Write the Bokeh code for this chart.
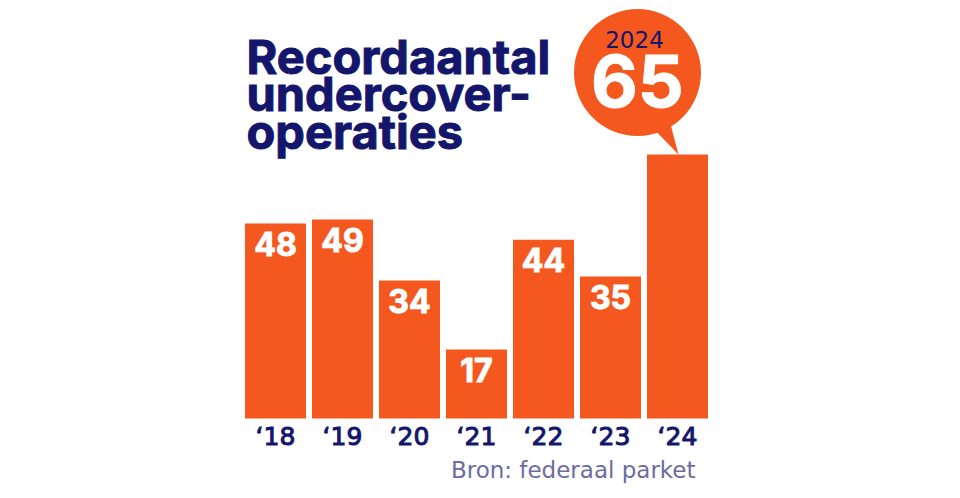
from bokeh.plotting import figure
from bokeh.models import Range1d, Label, ColumnDataSource
from bokeh.core.properties import value
from bokeh.embed import file_html
from bokeh.resources import INLINE

# ---- data ----
years = ["\u201818", "\u201819", "\u201820", "\u201821", "\u201822", "\u201823", "\u201824"]
counts = [48, 49, 34, 17, 44, 35, 65]
highlight_year = "2024"
title_lines = ["Recordaantal", "undercover-", "operaties"]
source_text = "Bron: federaal parket"

# ---- style / layout ----
ORANGE = "#f4581f"
NAVY = "#13166b"
GREY = "#6d6ba0"
FONT = "Inter"
FONT2 = "DejaVu Sans"
W, H = 960, 498
PX_X = 67.0      # pixels per category step
PX_Y = 4.06      # pixels per unit
FIRST_CX = 275.0  # x of first bar centre
BASE_Y = 418.0    # y (from top) of baseline
BL = 0.37         # baseline correction (fraction of font size)

x0 = -FIRST_CX / PX_X
y0 = -(H - BASE_Y) / PX_Y

p = figure(width=W, height=H, output_backend="svg", toolbar_location=None,
           x_range=Range1d(x0, x0 + W / PX_X), y_range=Range1d(y0, y0 + H / PX_Y),
           min_border=0, x_axis_location=None, y_axis_location=None)
p.outline_line_color = None
p.xgrid.visible = False
p.ygrid.visible = False
p.background_fill_color = "white"
p.border_fill_color = "white"

def px2x(px):
    return x0 + px / PX_X

def py2y(py):
    return y0 + (H - py) / PX_Y

idx = list(range(len(years)))
src = ColumnDataSource(dict(x=idx, v=counts, yr=years, zero=[0] * len(years)))

p.vbar(x="x", top="v", bottom=0, width=61 / PX_X, source=src,
       fill_color=ORANGE, line_color=None)

# value labels (all except highlighted last)
vsrc = ColumnDataSource(dict(x=idx[:-1], v=counts[:-1], lab=[str(c) for c in counts[:-1]]))
p.text(x="x", y="v", text="lab", source=vsrc, text_color="white",
       text_outline_color="white",
       text_font=value(FONT), text_font_style="bold", text_font_size="32px",
       text_align="center", text_baseline="alphabetic", y_offset=32 - BL * 32)

# year labels
p.text(x="x", y="zero", text="yr", source=src, text_color=NAVY,
       text_outline_color=NAVY,
       text_font=value(FONT2), text_font_size="25px",
       text_align="center", text_baseline="alphabetic", y_offset=27 - BL * 25)

# bubble for highlighted bar
hx, hy = idx[-1], counts[-1]
cx = hx - 40 / PX_X
cy = hy + 82 / PX_Y
p.patch(x=[hx + 1 / PX_X, hx - 31 / PX_X, hx - 9 / PX_X],
        y=[hy, hy + 33 / PX_Y, hy + 38 / PX_Y],
        fill_color=ORANGE, line_color=None)
p.scatter(x=[cx], y=[cy], size=127, marker="circle", fill_color=ORANGE, line_color=None)
p.text(x=[cx - 3 / PX_X], y=[cy], text=[highlight_year], text_color=NAVY,
       text_font=value(FONT2), text_font_size="23px", text_align="center",
       text_baseline="alphabetic", y_offset=-25 - BL * 23)
p.text(x=[cx], y=[cy], text=[str(counts[-1])], text_color="white",
       text_outline_color="white",
       text_font=value(FONT), text_font_style="bold", text_font_size="72px",
       text_align="center", text_baseline="alphabetic", y_offset=35 - BL * 72)

# title
for i, line in enumerate(title_lines):
    p.add_layout(Label(x=px2x(246), y=py2y(73 + 37.5 * i - BL * 47), text=line,
                       text_color=NAVY, text_outline_color=NAVY,
                       text_font=FONT, text_font_style="bold",
                       text_font_size="47px", text_align="left",
                       text_baseline="alphabetic"))

# source
p.add_layout(Label(x=px2x(695), y=py2y(478 - BL * 23), text=source_text, text_color=GREY,
                   text_font=FONT2, text_font_size="23px", text_align="right",
                   text_baseline="alphabetic"))

open("out.html", "w").write(file_html(p, INLINE))
